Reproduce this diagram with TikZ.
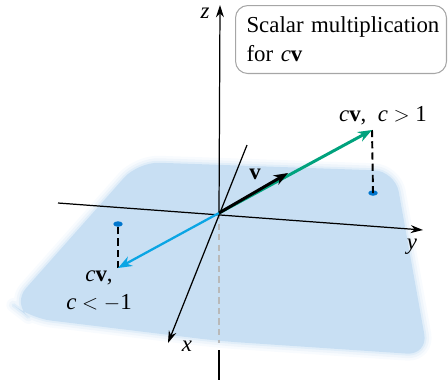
\documentclass[tikz,border=0pt]{standalone}
\usepackage{fontspec}
\setmainfont{Liberation Serif}
\usepackage{tikz}
\usetikzlibrary{arrows.meta,positioning,calc,shapes.geometric}
\definecolor{planeblue}{RGB}{200,223,243}
\definecolor{vgreen}{RGB}{0,162,125}
\definecolor{vcyan}{RGB}{10,165,228}
\definecolor{dotblue}{RGB}{0,118,205}

\begin{document}
\begin{tikzpicture}[x=0.02cm, y=-0.02cm,
    axis/.style={-{Stealth[length=7pt,width=4.5pt]}, line width=0.7pt},
    vec/.style={-{Stealth[length=8pt,width=6pt]}, line width=1.7pt},
    drop/.style={dash pattern=on 4pt off 2.4pt, line width=1.1pt},
    lbl/.style={font=\fontsize{13}{16}\selectfont, inner sep=0pt},
    dotmark/.style={ellipse, fill=dotblue, inner sep=0pt, minimum width=0.19cm, minimum height=0.11cm},
    plane/.style={rounded corners=12}
]
\useasboundingbox (0,0) rectangle (448,380);
\def\planepath{(138,162) -- (395,171) -- (428,355) -- (219,341) -- (30,318) -- (12,304) -- cycle}
\foreach \w/\o in {14/0.12,9/0.2,4/0.35}
  \draw[plane, planeblue, line width=\w*0.02cm, opacity=\o, line join=round] \planepath;
\fill[plane, planeblue] \planepath;

\coordinate (O) at (219,213);
\coordinate (ztop) at (220,5);
\coordinate (zlow) at (219,343);
\coordinate (zgap) at (219,350);
\coordinate (zend) at (219,380);
\coordinate (ystart) at (58,203);
\coordinate (yend) at (423,230);
\coordinate (xstart) at (247,145);
\coordinate (xend) at (168,343);
\coordinate (vtip) at (288,173);
\coordinate (gtip) at (372,130);
\coordinate (btip) at (118,268);

\node[dotmark] (gdot) at (373,193) {};
\node[dotmark] (bdot) at (118,224) {};

\draw[axis] (O) -- (ztop);
\draw[gray!55, dash pattern=on 3.6pt off 2.4pt, line width=1.3pt] (O) -- (zlow);
\draw[line width=0.7pt] (zgap) -- (zend);
\draw[axis] (ystart) -- (yend);
\draw[axis] (xstart) -- (xend);

\draw[drop] (gtip) -- (gdot.center);
\draw[drop] (btip) -- (bdot.center);

\draw[vec, vgreen] (O) -- (gtip);
\draw[vec, vcyan, line width=1.3pt] (O) -- (btip);
\draw[vec, black] (O) -- (vtip);

\node[lbl] (zl) at (205,13) {\textit{z}};
\node[lbl] (yl) at (412,247) {\textit{y}};
\node[lbl] (xl) at (187,346) {\textit{x}};
\node[lbl] (vl) at (255,174) {\textbf{v}};
\node[lbl] (gl) at (383,116) {\textit{c}\textbf{v},\ \ \textit{c} $>$ 1};
\node[lbl] (bl1) at (99,278) {\textit{c}\textbf{v},};
\node[lbl] (bl2) at (99,303) {\textit{c} $<$ $-$1};

\node[draw=gray!70, line width=0.6pt, rounded corners=7pt, anchor=north west,
      minimum width=4.22cm, minimum height=1.36cm, text width=3.78cm, inner xsep=0.22cm,
      align=left, font=\fontsize{13}{16.5}\selectfont] (title) at (235,5)
      {\mbox{Scalar multiplication}\\for \textit{c}\textbf{v}};
\end{tikzpicture}
\end{document}
